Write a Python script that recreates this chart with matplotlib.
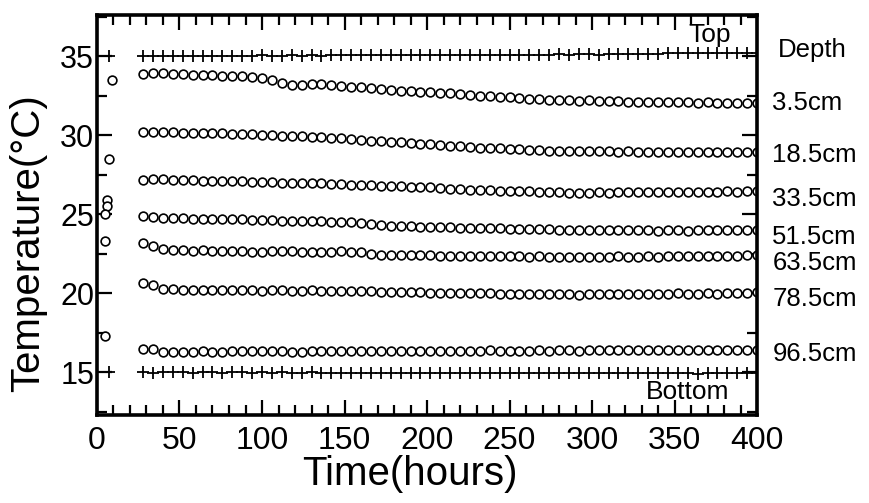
import matplotlib
matplotlib.use('Agg')
import matplotlib.pyplot as plt
from matplotlib.ticker import MultipleLocator
import matplotlib.transforms as mtransforms

plt.rcParams['font.family'] = ['Liberation Sans', 'DejaVu Sans']

# sampling times (hours)
times = [28, 34, 40, 46, 52, 58, 64, 70, 76, 82,
         88, 94, 100, 106, 112, 118, 124, 130, 136, 142,
         148, 154, 160, 166, 172, 178, 184, 190, 196, 202,
         208, 214, 220, 226, 232, 238, 244, 250, 256, 262,
         268, 274, 280, 286, 292, 298, 304, 310, 316, 322,
         328, 334, 340, 346, 352, 358, 364, 370, 376, 382,
         388, 394, 400]

# boundary temperatures (+ markers)
top = [35.00, 35.02, 35.00, 35.01, 35.03, 35.00, 35.02, 35.01, 35.03, 35.02,
       35.04, 35.02, 35.05, 35.03, 35.04, 35.06, 35.04, 35.05, 35.03, 35.06,
       35.05, 35.07, 35.05, 35.06, 35.08, 35.06, 35.07, 35.05, 35.08, 35.07,
       35.06, 35.08, 35.07, 35.09, 35.08, 35.07, 35.09, 35.10, 35.08, 35.09,
       35.10, 35.09, 35.11, 35.10, 35.12, 35.11, 35.10, 35.12, 35.13, 35.12,
       35.14, 35.16, 35.15, 35.17, 35.18, 35.20, 35.18, 35.21, 35.19, 35.22,
       35.20, 35.23, 35.18]
bottom = [15.00, 14.98, 15.00, 14.99, 15.01, 14.98, 15.00, 14.99, 14.98, 15.00,
          14.99, 14.98, 15.00, 14.97, 14.99, 14.98, 14.97, 14.99, 14.98, 14.96,
          14.98, 14.97, 14.95, 14.97, 14.98, 14.96, 14.97, 14.95, 14.96, 14.97,
          14.96, 14.95, 14.97, 14.96, 14.94, 14.96, 14.95, 14.97, 14.95, 14.94,
          14.96, 14.95, 14.94, 14.96, 14.95, 14.93, 14.95, 14.94, 14.96, 14.94,
          14.95, 14.93, 14.94, 14.95, 14.93, 14.94, 14.92, 14.94, 14.93, 14.95,
          14.93, 14.94, 14.95]

# soil temperatures at each depth (o markers)
d35 = [33.85, 33.95, 33.93, 33.90, 33.86, 33.84, 33.80, 33.78, 33.76, 33.74,
       33.72, 33.68, 33.62, 33.52, 33.30, 33.18, 33.20, 33.22, 33.24, 33.20,
       33.12, 33.08, 33.04, 32.98, 32.90, 32.86, 32.82, 32.78, 32.76, 32.72,
       32.68, 32.64, 32.60, 32.56, 32.50, 32.48, 32.44, 32.40, 32.34, 32.30,
       32.28, 32.25, 32.22, 32.20, 32.18, 32.20, 32.16, 32.14, 32.15, 32.12,
       32.13, 32.10, 32.12, 32.08, 32.10, 32.08, 32.06, 32.08, 32.05, 32.06,
       32.04, 32.02, 32.03]
d185 = [30.20, 30.22, 30.20, 30.18, 30.17, 30.16, 30.15, 30.14, 30.12, 30.10,
        30.08, 30.06, 30.04, 30.00, 29.96, 29.94, 29.92, 29.90, 29.88, 29.85,
        29.82, 29.78, 29.72, 29.66, 29.62, 29.58, 29.54, 29.50, 29.46, 29.42,
        29.38, 29.34, 29.30, 29.26, 29.22, 29.18, 29.16, 29.12, 29.10, 29.07,
        29.05, 29.03, 29.02, 29.00, 28.98, 29.00, 28.97, 28.98, 28.96, 28.98,
        28.95, 28.96, 28.94, 28.96, 28.93, 28.95, 28.94, 28.92, 28.94, 28.93,
        28.92, 28.94, 28.93]
d335 = [27.18, 27.22, 27.20, 27.17, 27.16, 27.14, 27.13, 27.12, 27.10, 27.09,
        27.08, 27.07, 27.05, 27.02, 26.98, 26.95, 26.96, 26.98, 26.95, 26.92,
        26.90, 26.88, 26.86, 26.83, 26.80, 26.78, 26.76, 26.74, 26.72, 26.70,
        26.66, 26.62, 26.58, 26.56, 26.54, 26.52, 26.50, 26.48, 26.46, 26.44,
        26.42, 26.40, 26.38, 26.36, 26.35, 26.36, 26.38, 26.36, 26.40, 26.38,
        26.40, 26.38, 26.41, 26.39, 26.42, 26.40, 26.43, 26.41, 26.42, 26.44,
        26.42, 26.45, 26.44]
d515 = [24.86, 24.82, 24.78, 24.76, 24.74, 24.72, 24.72, 24.70, 24.69, 24.68,
        24.67, 24.66, 24.64, 24.62, 24.60, 24.58, 24.58, 24.57, 24.56, 24.54,
        24.52, 24.48, 24.44, 24.40, 24.30, 24.27, 24.26, 24.24, 24.22, 24.20,
        24.19, 24.18, 24.16, 24.14, 24.13, 24.12, 24.10, 24.09, 24.08, 24.06,
        24.05, 24.04, 24.03, 24.02, 24.00, 24.01, 23.99, 24.00, 23.98, 23.99,
        24.00, 23.98, 23.97, 23.99, 23.98, 23.97, 23.99, 23.98, 24.00, 23.98,
        23.99, 23.98, 24.00]
d635 = [23.20, 23.02, 22.78, 22.72, 22.74, 22.70, 22.72, 22.70, 22.68, 22.66,
        22.68, 22.64, 22.62, 22.65, 22.68, 22.70, 22.64, 22.60, 22.62, 22.64,
        22.66, 22.62, 22.58, 22.50, 22.44, 22.42, 22.42, 22.40, 22.41, 22.39,
        22.38, 22.38, 22.37, 22.36, 22.36, 22.35, 22.34, 22.35, 22.33, 22.32,
        22.33, 22.31, 22.32, 22.30, 22.31, 22.32, 22.30, 22.31, 22.33, 22.31,
        22.32, 22.34, 22.32, 22.33, 22.35, 22.33, 22.34, 22.36, 22.34, 22.37,
        22.38, 22.40, 22.45]
d785 = [20.62, 20.52, 20.28, 20.24, 20.22, 20.20, 20.21, 20.20, 20.18, 20.19,
        20.20, 20.18, 20.17, 20.19, 20.18, 20.16, 20.17, 20.18, 20.16, 20.15,
        20.14, 20.16, 20.14, 20.12, 20.10, 20.08, 20.07, 20.06, 20.05, 20.04,
        20.03, 20.04, 20.02, 20.00, 20.01, 19.99, 19.98, 19.97, 19.96, 19.95,
        19.96, 19.94, 19.95, 19.93, 19.92, 19.94, 19.93, 19.95, 19.96, 19.94,
        19.97, 19.95, 19.98, 19.96, 19.99, 19.97, 19.98, 20.00, 19.98, 20.01,
        20.00, 20.02, 20.06]
d965 = [16.46, 16.48, 16.30, 16.26, 16.28, 16.30, 16.32, 16.31, 16.30, 16.32,
        16.33, 16.32, 16.34, 16.35, 16.32, 16.26, 16.30, 16.33, 16.32, 16.34,
        16.35, 16.34, 16.36, 16.35, 16.34, 16.36, 16.37, 16.35, 16.36, 16.34,
        16.35, 16.37, 16.36, 16.35, 16.37, 16.38, 16.36, 16.37, 16.35, 16.36,
        16.38, 16.37, 16.39, 16.38, 16.36, 16.38, 16.40, 16.38, 16.39, 16.41,
        16.39, 16.42, 16.40, 16.38, 16.41, 16.43, 16.40, 16.42, 16.41, 16.43,
        16.42, 16.44, 16.43]

# first readings near t = 0
early_t = [9, 7, 6, 6, 5, 5, 5]
early_val = [33.5, 28.5, 25.9, 25.5, 25.0, 23.3, 17.3]
early_cross_t = [7, 7]
early_cross_val = [35.0, 15.0]

depth_labels = ['3.5cm', '18.5cm', '33.5cm', '51.5cm', '63.5cm', '78.5cm', '96.5cm']
depth_label_y = [32.02, 28.72, 25.99, 23.58, 21.93, 19.64, 16.15]

fig = plt.figure(figsize=(8.69, 5.03), dpi=100)
ax = fig.add_axes([0.1116, 0.175, 0.7596, 0.795])

circ = dict(ls='none', marker='o', ms=6.3, mfc='white', mec='black', mew=1.2)
cross = dict(ls='none', marker='+', ms=8, mec='black', mew=1.3)

for s in [d35, d185, d335, d515, d635, d785, d965]:
    ax.plot(times, s, **circ)
ax.plot(early_t, early_val, **circ)
ax.plot(times, top, **cross)
ax.plot(times, bottom, **cross)
ax.plot(early_cross_t, early_cross_val, **cross)

ax.set_xlim(0, 400)
ax.set_ylim(12.3, 37.6)
ax.xaxis.set_major_locator(MultipleLocator(50))
ax.xaxis.set_minor_locator(MultipleLocator(10))
ax.yaxis.set_major_locator(MultipleLocator(5))
ax.yaxis.set_minor_locator(MultipleLocator(2.5))
ax.tick_params(which='both', direction='in', top=True, right=True, width=1.6, colors='black')
ax.tick_params(which='major', length=11)
ax.tick_params(which='minor', length=7)
ax.tick_params(axis='x', labelsize=23, pad=8)
ax.tick_params(axis='y', labelsize=22, pad=2)
for sp in ax.spines.values():
    sp.set_linewidth(2.6)

ax.set_xlabel('Time(hours)', fontsize=29)
ax.xaxis.set_label_coords(0.474, -0.10)
ax.set_ylabel('Temperature(°C)', fontsize=29)
ax.yaxis.set_label_coords(-0.075, 0.43)

ax.text(371, 36.33, 'Top', fontsize=19, ha='center', va='center')
ax.text(358, 13.73, 'Bottom', fontsize=19, ha='center', va='center')

trans = mtransforms.blended_transform_factory(ax.transAxes, ax.transData)
ax.text(1.032, 35.38, 'Depth', fontsize=18.5, ha='left', va='center', transform=trans, clip_on=False)
for lab, yy in zip(depth_labels, depth_label_y):
    ax.text(1.023, yy, lab, fontsize=18.5, ha='left', va='center', transform=trans, clip_on=False)

fig.savefig('out.png', dpi=100)
